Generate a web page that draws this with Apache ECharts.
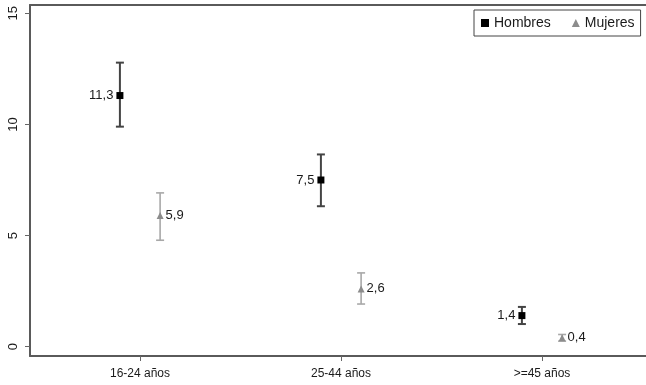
<!DOCTYPE html>
<html><head><meta charset="utf-8">
<script src="https://cdn.jsdelivr.net/npm/echarts@6/dist/echarts.min.js"></script>
<style>html,body{margin:0;padding:0;background:#fff}#c{width:646px;height:385px}</style>
</head><body><div id="c"></div>
<script>
const categories = ['16-24 años', '25-44 años', '>=45 años'];
const categoryTicks = [1, 2, 3];
const hombresX = [0.9, 1.9, 2.9];
const mujeresX = [1.1, 2.1, 3.1];
const hombres = [11.3, 7.5, 1.4];
const hombresLow = [9.9, 6.32, 1.02];
const hombresHigh = [12.78, 8.65, 1.79];
const mujeres = [5.9, 2.6, 0.4];
const mujeresLow = [4.79, 1.92, 0.25];
const mujeresHigh = [6.92, 3.32, 0.55];
const yTicks = [0, 5, 10, 15];

const FONT = "'Liberation Sans', Arial, sans-serif";
const fmt = v => v.toFixed(1).replace('.', ',');

function errorBar(color, width) {
  return function (params, api) {
    const x = api.value(0);
    const lo = api.coord([x, api.value(1)]);
    const hi = api.coord([x, api.value(2)]);
    const hw = 4;
    const st = { stroke: color, lineWidth: width };
    return { type: 'group', children: [
      { type: 'line', shape: { x1: lo[0], y1: lo[1], x2: hi[0], y2: hi[1] }, style: st },
      { type: 'line', shape: { x1: lo[0] - hw, y1: lo[1], x2: lo[0] + hw, y2: lo[1] }, style: st },
      { type: 'line', shape: { x1: hi[0] - hw, y1: hi[1], x2: hi[0] + hw, y2: hi[1] }, style: st }
    ] };
  };
}

const frameLine = { show: true, onZero: false, lineStyle: { color: '#5a5a5a', width: 2 } };
const chart = echarts.init(document.getElementById('c'), null, { renderer: 'canvas' });
chart.setOption({
  animation: false,
  backgroundColor: '#fff',
  textStyle: { fontFamily: FONT },
  grid: { left: 30, top: 5, right: 0, height: 351, show: false, containLabel: false },
  legend: {
    left: 474, top: 10,
    backgroundColor: '#fff', borderColor: '#444', borderWidth: 1,
    padding: [6, 6, 6, 7], itemGap: 21, itemWidth: 8, itemHeight: 8,
    textStyle: { fontSize: 14, color: '#1a1a1a', fontFamily: FONT },
    data: [
      { name: 'Hombres', icon: 'rect' },
      { name: 'Mujeres', icon: 'triangle' }
    ]
  },
  xAxis: [{
    type: 'value', min: 0.4527, max: 3.5174, position: 'bottom',
    axisLine: frameLine,
    splitLine: { show: false },
    axisTick: { show: true, length: 5, customValues: categoryTicks, lineStyle: { color: '#666', width: 1 } },
    axisLabel: { customValues: categoryTicks, margin: 12, fontSize: 12, color: '#1a1a1a', fontFamily: FONT,
      formatter: v => categories[categoryTicks.indexOf(Math.round(v))] }
  }, {
    type: 'value', min: 0.4527, max: 3.5174, position: 'top',
    axisLine: frameLine, axisTick: { show: false }, axisLabel: { show: false }, splitLine: { show: false }
  }],
  yAxis: {
    type: 'value', min: -0.418, max: 15.373,
    axisLine: frameLine,
    splitLine: { show: false },
    axisTick: { show: true, length: 5, customValues: yTicks, lineStyle: { color: '#666', width: 1 } },
    axisLabel: { customValues: yTicks, rotate: 90, margin: 10, fontSize: 13, color: '#1a1a1a', fontFamily: FONT }
  },
  series: [
    { name: 'eb_h', type: 'custom', renderItem: errorBar('#444', 2), encode: { x: 0, y: [1, 2] },
      data: hombresX.map((x, i) => [x, hombresLow[i], hombresHigh[i]]), z: 1, silent: true },
    { name: 'eb_m', type: 'custom', renderItem: errorBar('#a8a8a8', 1.6), encode: { x: 0, y: [1, 2] },
      data: mujeresX.map((x, i) => [x, mujeresLow[i], mujeresHigh[i]]), z: 1, silent: true },
    { name: 'Hombres', type: 'scatter', symbol: 'rect', symbolSize: 7, z: 3,
      itemStyle: { color: '#000', opacity: 1 },
      label: { show: true, position: 'left', distance: 3, fontSize: 13, color: '#1a1a1a', fontFamily: FONT,
        formatter: p => fmt(p.value[1]) },
      data: hombresX.map((x, i) => [x, hombres[i]]) },
    { name: 'Mujeres', type: 'scatter', symbol: 'triangle', symbolSize: 7, z: 3,
      itemStyle: { color: '#8c8c8c', opacity: 1 },
      label: { show: true, position: 'right', distance: 2, fontSize: 13, color: '#1a1a1a', fontFamily: FONT,
        formatter: p => fmt(p.value[1]) },
      data: mujeresX.map((x, i) => [x, mujeres[i]]) }
  ]
});
</script></body></html>
